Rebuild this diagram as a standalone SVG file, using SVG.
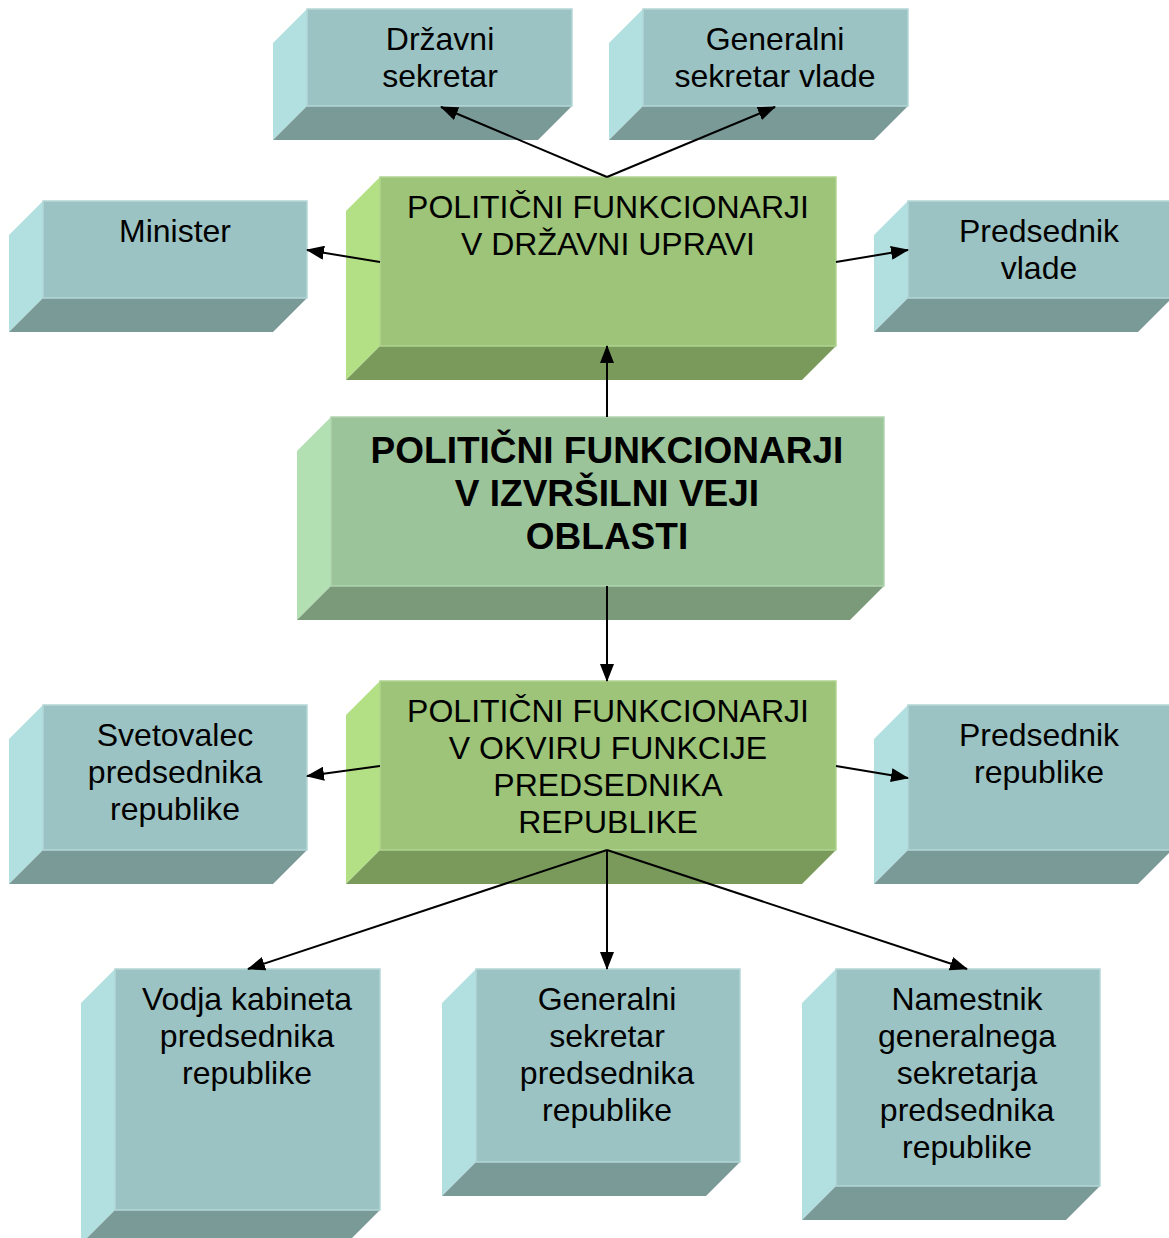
<svg xmlns="http://www.w3.org/2000/svg" width="1169" height="1238" viewBox="0 0 1169 1238">
<defs>
<style>
.t{font-family:"Liberation Sans",Arial,sans-serif;font-size:32px;fill:#000;text-anchor:middle}
.b{font-family:"Liberation Sans",Arial,sans-serif;font-size:37px;font-weight:bold;fill:#000;text-anchor:middle}
.tf{fill:#9CC3C3;stroke:#B4D6D6;stroke-width:1.5}
.tl{fill:#B2DFE0}
.tb{fill:#7A9A98}
.gf{fill:#9DC479;stroke:#B0D48F;stroke-width:1.5}
.gl{fill:#B4E085}
.gb{fill:#7A9A5B}
.cf{fill:#9CC49B;stroke:#B0D4AF;stroke-width:1.5}
.cl{fill:#B3E0B3}
.cb{fill:#7B9A7A}
.c{stroke:#000;stroke-width:2;fill:none;marker-end:url(#ah)}
</style>
<marker id="ah" markerUnits="userSpaceOnUse" markerWidth="18" markerHeight="14" refX="17" refY="7" orient="auto" viewBox="0 0 18 14">
<path d="M0,0 L18,7 L0,14 z" fill="#000"/>
</marker>
</defs>

<g id="drzavni-sekretar">
<polygon class="tl" points="273,43 307,9 307,106 273,140"/>
<polygon class="tb" points="307,106 572,106 538,140 273,140"/>
<rect class="tf" x="307" y="9" width="265" height="97"/>
<text class="t" x="440" y="50">Državni</text>
<text class="t" x="440" y="87">sekretar</text>
</g>

<g id="generalni-sekretar-vlade">
<polygon class="tl" points="609,43 643,9 643,106 609,140"/>
<polygon class="tb" points="643,106 908,106 874,140 609,140"/>
<rect class="tf" x="643" y="9" width="265" height="97"/>
<text class="t" x="775" y="50">Generalni</text>
<text class="t" x="775" y="87">sekretar vlade</text>
</g>

<g id="minister">
<polygon class="tl" points="9,235 43,201 43,298 9,332"/>
<polygon class="tb" points="43,298 307,298 273,332 9,332"/>
<rect class="tf" x="43" y="201" width="264" height="97"/>
<text class="t" x="175" y="242">Minister</text>
</g>

<g id="predsednik-vlade">
<polygon class="tl" points="874,235 908,201 908,298 874,332"/>
<polygon class="tb" points="908,298 1172,298 1138,332 874,332"/>
<rect class="tf" x="908" y="201" width="264" height="97"/>
<text class="t" x="1039" y="242">Predsednik</text>
<text class="t" x="1039" y="279">vlade</text>
</g>

<g id="drzavna-uprava">
<polygon class="gl" points="346,211 380,177 380,346 346,380"/>
<polygon class="gb" points="380,346 836,346 802,380 346,380"/>
<rect class="gf" x="380" y="177" width="456" height="169"/>
<text class="t" x="608" y="218">POLITIČNI FUNKCIONARJI</text>
<text class="t" x="608" y="255">V DRŽAVNI UPRAVI</text>
</g>

<g id="izvrsilna-veja">
<polygon class="cl" points="297,451 331,417 331,586 297,620"/>
<polygon class="cb" points="331,586 884,586 850,620 297,620"/>
<rect class="cf" x="331" y="417" width="553" height="169"/>
<text class="b" x="607" y="463">POLITIČNI FUNKCIONARJI</text>
<text class="b" x="607" y="506">V IZVRŠILNI VEJI</text>
<text class="b" x="607" y="549">OBLASTI</text>
</g>

<g id="funkcija-predsednika">
<polygon class="gl" points="346,715 380,681 380,850 346,884"/>
<polygon class="gb" points="380,850 836,850 802,884 346,884"/>
<rect class="gf" x="380" y="681" width="456" height="169"/>
<text class="t" x="608" y="722">POLITIČNI FUNKCIONARJI</text>
<text class="t" x="608" y="759">V OKVIRU FUNKCIJE</text>
<text class="t" x="608" y="796">PREDSEDNIKA</text>
<text class="t" x="608" y="833">REPUBLIKE</text>
</g>

<g id="svetovalec">
<polygon class="tl" points="9,739 43,705 43,850 9,884"/>
<polygon class="tb" points="43,850 307,850 273,884 9,884"/>
<rect class="tf" x="43" y="705" width="264" height="145"/>
<text class="t" x="175" y="746">Svetovalec</text>
<text class="t" x="175" y="783">predsednika</text>
<text class="t" x="175" y="820">republike</text>
</g>

<g id="predsednik-republike">
<polygon class="tl" points="874,739 908,705 908,850 874,884"/>
<polygon class="tb" points="908,850 1172,850 1138,884 874,884"/>
<rect class="tf" x="908" y="705" width="264" height="145"/>
<text class="t" x="1039" y="746">Predsednik</text>
<text class="t" x="1039" y="783">republike</text>
</g>

<g id="vodja-kabineta">
<polygon class="tl" points="81,1003 115,969 115,1210 81,1244"/>
<polygon class="tb" points="115,1210 380,1210 346,1244 81,1244"/>
<rect class="tf" x="115" y="969" width="265" height="241"/>
<text class="t" x="247" y="1010">Vodja kabineta</text>
<text class="t" x="247" y="1047">predsednika</text>
<text class="t" x="247" y="1084">republike</text>
</g>

<g id="generalni-sekretar-predsednika">
<polygon class="tl" points="442,1003 476,969 476,1162 442,1196"/>
<polygon class="tb" points="476,1162 740,1162 706,1196 442,1196"/>
<rect class="tf" x="476" y="969" width="264" height="193"/>
<text class="t" x="607" y="1010">Generalni</text>
<text class="t" x="607" y="1047">sekretar</text>
<text class="t" x="607" y="1084">predsednika</text>
<text class="t" x="607" y="1121">republike</text>
</g>

<g id="namestnik">
<polygon class="tl" points="802,1003 836,969 836,1186 802,1220"/>
<polygon class="tb" points="836,1186 1100,1186 1066,1220 802,1220"/>
<rect class="tf" x="836" y="969" width="264" height="217"/>
<text class="t" x="967" y="1010">Namestnik</text>
<text class="t" x="967" y="1047">generalnega</text>
<text class="t" x="967" y="1084">sekretarja</text>
<text class="t" x="967" y="1121">predsednika</text>
<text class="t" x="967" y="1158">republike</text>
</g>

<g id="connectors">
<line class="c" x1="607" y1="177" x2="441" y2="107"/>
<line class="c" x1="607" y1="177" x2="775" y2="107"/>
<line class="c" x1="380" y1="262" x2="307" y2="250"/>
<line class="c" x1="836" y1="262" x2="908" y2="250"/>
<line class="c" x1="607" y1="417" x2="607" y2="346"/>
<line class="c" x1="607" y1="586" x2="607" y2="681"/>
<line class="c" x1="380" y1="766" x2="307" y2="776"/>
<line class="c" x1="836" y1="766" x2="908" y2="778"/>
<line class="c" x1="607" y1="850" x2="248" y2="969"/>
<line class="c" x1="607" y1="850" x2="607" y2="969"/>
<line class="c" x1="607" y1="850" x2="967" y2="969"/>
</g>
</svg>
